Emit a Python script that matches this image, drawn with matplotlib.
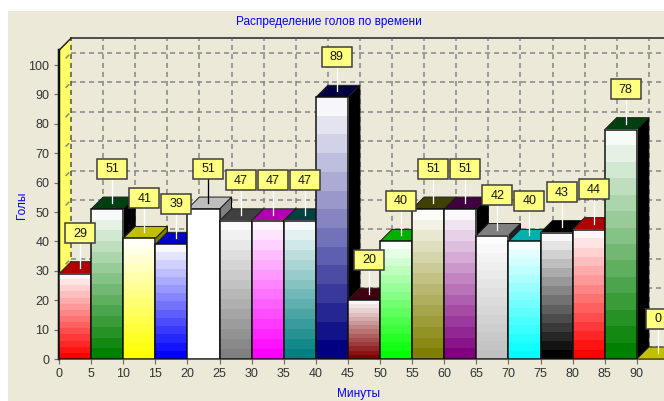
import numpy as np
import matplotlib
matplotlib.use('Agg')
import matplotlib.pyplot as plt
from matplotlib.patches import Polygon, Rectangle

plt.rcParams['font.family'] = ['Liberation Sans', 'DejaVu Sans']

# Goals per five minute interval
minutes = [0, 5, 10, 15, 20, 25, 30, 35, 40, 45, 50, 55, 60, 65, 70, 75, 80, 85, 90]
goals = [29, 51, 41, 39, 51, 47, 47, 47, 89, 20, 40, 51, 51, 42, 40, 43, 44, 78, 0]
face_colors = ['#ff0000', '#008000', '#ffff00', '#0000ff', '#ffffff', '#808080', '#ff00ff',
               '#008080', '#000080', '#800000', '#00ff00', '#808000', '#800080', '#c0c0c0',
               '#00ffff', '#000000', '#ff0000', '#008000', '#ffff00']
top_colors = ['#b00000', '#004010', '#c0c000', '#0000c8', '#bebebe', '#404040', '#b000b0',
              '#004040', '#000040', '#400010', '#00b000', '#404000', '#400040', '#808080',
              '#00b0b0', '#000000', '#b00000', '#004010', '#c0c000']
side_colors = ['#400000', '#000000', '#808000', '#000040', '#808080', '#000000', '#400040',
               '#000000', '#000000', '#000000', '#004000', '#000000', '#000000', '#202020',
               '#004040', '#000000', '#400000', '#000000', '#808000']
leader_colors = ['white', 'white', 'white', 'white', 'black', 'white', 'white', 'white', 'white',
                 'white', 'white', 'white', 'white', 'white', 'white', 'white', 'white', 'white', 'white']

BG = '#ece9d8'
W, H = 664, 401
X0, Y0 = 59, 359          # pixel of data origin
PX_X, PX_Y = 6.42, 2.94   # pixels per data unit
DX, DY = 12 / PX_X, 12 / PX_Y   # 3d depth in data units
Y_TOP = 105
BAR_W = 5
BANDS = 14


def lw(px):
    return px * 0.72


fig = plt.figure(figsize=(W / 100, H / 100), dpi=100, facecolor='white')
fig.add_artist(Rectangle((8 / W, 0), 1, 1 - 11 / H, transform=fig.transFigure, fc=BG, ec='none', zorder=-5))

ax = fig.add_axes([X0 / W, (H - Y0) / H, (W - X0) / W, (Y0 - 11) / H])
ax.patch.set_visible(False)
xlim = (0, (W - X0) / PX_X)
ylim = (0, (Y0 - 11) / PX_Y)

# left wall
ax.add_patch(Polygon([(0, 0), (DX, DY), (DX, Y_TOP + DY), (0, Y_TOP)], fc='#ffff66', ec='none', zorder=1))
ax.plot([0, DX], [Y_TOP, Y_TOP + DY], color='#202020', lw=lw(1.5), zorder=1.5)

# grid on the back plane and on the wall
grid = dict(color='#858585', lw=lw(1.5), dashes=(3.4, 2.6), zorder=1.2)
for v in range(0, 101, 10):
    ax.plot([DX, xlim[1]], [v + DY, v + DY], **grid)
    ax.plot([DX * 0.55, DX], [v + DY * 0.55, v + DY], **grid)
for m in range(5, 96, 5):
    ax.plot([m + DX, m + DX], [DY, Y_TOP + DY], **grid)
ax.plot([DX, DX], [DY, Y_TOP + DY], color='#505050', lw=lw(1.5), dashes=(3.4, 2.6), zorder=1.3)
ax.plot([DX, xlim[1]], [Y_TOP + DY, Y_TOP + DY], color='#505050', lw=lw(2), zorder=1.3)

# bars, left to right so the next one covers the side of the previous
for i, (m, g) in enumerate(zip(minutes, goals)):
    z = 3 + i * 0.1
    x1 = m + BAR_W
    ax.add_patch(Polygon([(x1, 0), (x1 + DX, DY), (x1 + DX, g + DY), (x1, g)],
                         fc=side_colors[i], ec='black', lw=lw(1), zorder=z))
    ax.add_patch(Polygon([(m, g), (m + DX, g + DY), (x1 + DX, g + DY), (x1, g)],
                         fc=top_colors[i], ec='#202020', lw=lw(1), zorder=z + 0.01))
    if g > 0:
        base = np.array(matplotlib.colors.to_rgb(face_colors[i]))
        t = np.linspace(0.97, 0, BANDS)[:, None]
        grad = (base + (1 - base) * t)[:, None, :]
        ax.imshow(grad, extent=(m, x1, 0, g), aspect='auto', interpolation='nearest', zorder=z + 0.02)
        ax.add_patch(Rectangle((m, 0), BAR_W, g, fc='none', ec='#101010', lw=lw(1.5), zorder=z + 0.03))

# value labels with leader lines
for i, (m, g) in enumerate(zip(minutes, goals)):
    cx = m + BAR_W / 2 + 5 / PX_X
    cy = g + 40.5 / PX_Y
    box_w = (30 if g >= 10 else 24) / PX_X
    box_h = 20 / PX_Y
    ax.plot([cx, cx], [g + 6 / PX_Y, cy], color=leader_colors[i], lw=lw(1.3), zorder=6)
    ax.add_patch(Rectangle((cx - box_w / 2, cy - box_h / 2), box_w, box_h, fc='#ffff80', ec='#3c3c3c',
                           lw=lw(1.5), zorder=7, clip_on=False))
    ax.text(cx, cy - 0.2, str(g), ha='center', va='center', fontsize=9, color='#151515', zorder=8)

ax.set_xlim(xlim)
ax.set_ylim(ylim)
ax.set_xticks(range(0, 91, 5))
ax.set_yticks(range(0, 101, 10))
ax.tick_params(axis='both', length=3.8, width=lw(1.2), color='#707070', labelcolor='#333333', labelsize=9, pad=3)
for name in ('top', 'right'):
    ax.spines[name].set_visible(False)
ax.spines['left'].set_bounds(0, Y_TOP)
ax.spines['left'].set_linewidth(lw(2.5))
ax.spines['left'].set_color('#101010')
ax.spines['left'].set_zorder(2)
ax.spines['bottom'].set_linewidth(lw(1.5))
ax.spines['bottom'].set_color('#303030')

fig.text(329 / W, 1 - 22 / H, 'Распределение голов по времени', color='#0000ff', fontsize=8.5, ha='center', va='center')
fig.text(22 / W, 1 - 205 / H, 'Голы', color='#0000ff', fontsize=8.5, rotation=90, ha='center', va='center')
fig.text(359 / W, 1 - 394 / H, 'Минуты', color='#0000ff', fontsize=8.5, ha='center', va='center')

fig.savefig('out.png', dpi=100, facecolor='white')
